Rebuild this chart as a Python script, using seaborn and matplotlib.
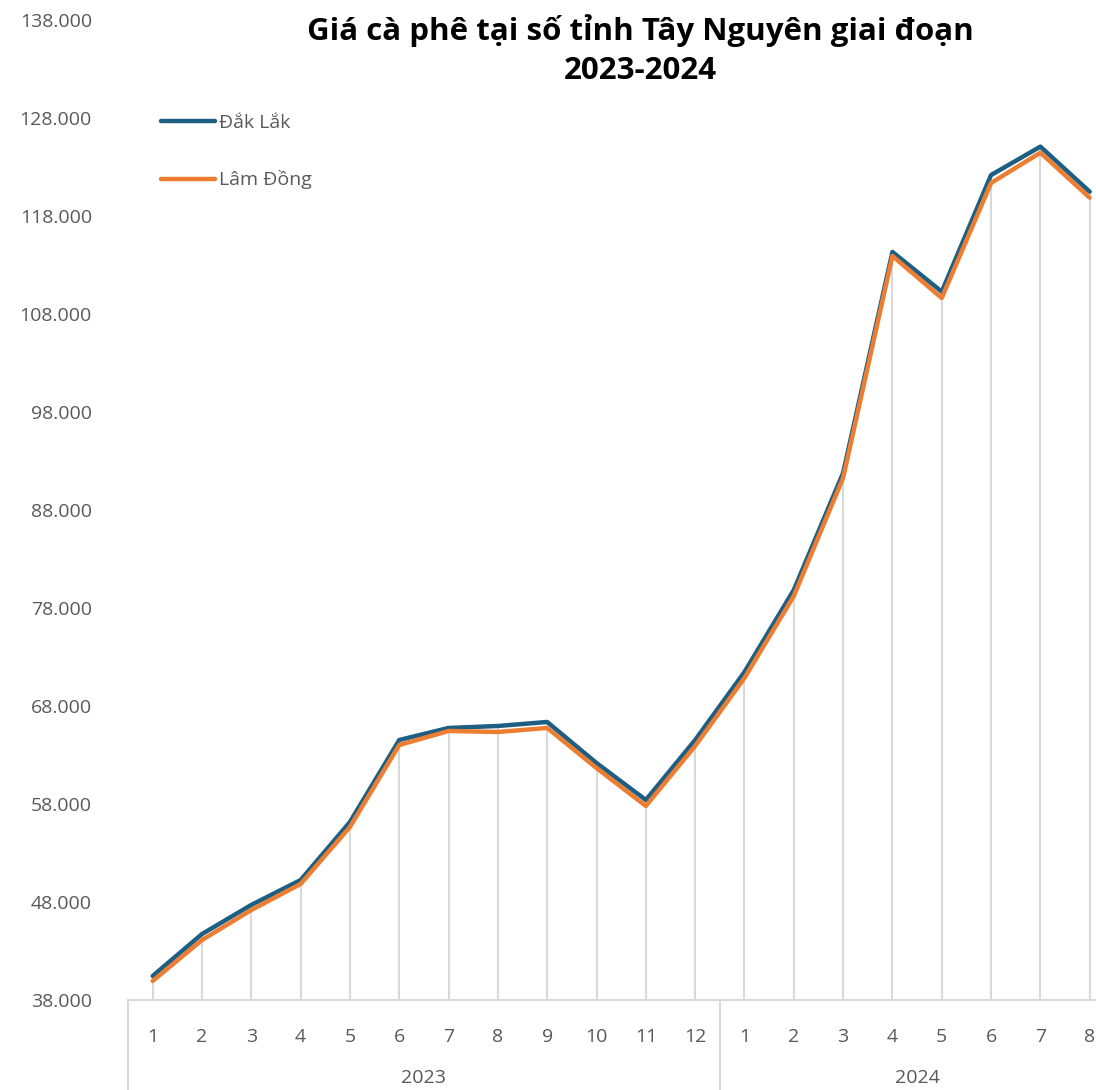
import numpy as np
import pandas as pd
import seaborn as sns
import matplotlib.pyplot as plt

# Dữ liệu giá cà phê (đồng/kg)
thang = [1, 2, 3, 4, 5, 6, 7, 8, 9, 10, 11, 12, 1, 2, 3, 4, 5, 6, 7, 8]
nam = ["2023"] * 12 + ["2024"] * 8
dak_lak = [40450, 44730, 47700, 50240, 56160, 64530, 65760, 65960, 66370, 62180,
           58410, 64530, 71470, 79840, 91780, 114330, 110280, 122180, 125080, 120480]
lam_dong = [39940, 44120, 47180, 49840, 55650, 64020, 65450, 65350, 65760, 61670,
            57800, 63920, 70860, 79220, 91270, 113920, 109630, 121370, 124460, 119870]
ten_tinh = ["Đắk Lắk", "Lâm Đồng"]
mau = ["#1d5f82", "#ed7d31"]
y_ticks = list(range(38000, 138001, 10000))

sns.set_theme(style="white")
plt.rcParams['font.family'] = ['Open Sans', 'DejaVu Sans']

idx = np.arange(len(thang))
df = pd.DataFrame({
    "idx": np.concatenate([idx, idx]),
    "gia": dak_lak + lam_dong,
    "tinh": [ten_tinh[0]] * len(idx) + [ten_tinh[1]] * len(idx),
})

W, H = 1096, 1090
fig = plt.figure(figsize=(W / 100, H / 100), dpi=100)
ax = fig.add_axes([128 / W, 90 / H, (W - 128) / W, 980 / H])

grey = "#d9d9d9"
txt = "#595959"

# drop lines
ax.vlines(idx, y_ticks[0], np.maximum(dak_lak, lam_dong), color=grey, lw=1.5, zorder=1)

sns.lineplot(data=df, x="idx", y="gia", hue="tinh", palette=mau, lw=3.2,
             ax=ax, zorder=3, solid_capstyle="round")

ax.set_ylim(38000, 138000)
ax.set_xlim(-0.5, (W - 153) / 49.3)
ax.set_yticks(y_ticks)
ax.set_yticklabels([f"{v:,.0f}".replace(",", ".") for v in y_ticks], color=txt, fontsize=14)
ax.set_xticks(idx)
ax.set_xticklabels([str(t) for t in thang], color=txt, fontsize=14)
ax.tick_params(axis="x", length=0, pad=20)
ax.tick_params(axis="y", length=0, pad=26)
ax.set_xlabel("")
ax.set_ylabel("")
for s in ["top", "right", "left"]:
    ax.spines[s].set_visible(False)
ax.spines["bottom"].set_color(grey)
ax.spines["bottom"].set_linewidth(1.5)

# khung trục phân cấp năm
tr = ax.get_xaxis_transform()
for xb in [-0.5, 11.5]:
    ax.plot([xb, xb], [0, -92 / 980], color=grey, lw=1.5, transform=tr, clip_on=False)
ax.text(5.5, -78 / 980, "2023", transform=tr, ha="center", va="center", color=txt, fontsize=14)
ax.text(15.5, -78 / 980, "2024", transform=tr, ha="center", va="center", color=txt, fontsize=14)

handles, labels = ax.get_legend_handles_labels()
ax.legend(handles, labels, loc="upper left", bbox_to_anchor=(143 / W, 1 - 96 / H),
          bbox_transform=fig.transFigure, frameon=False, fontsize=14,
          labelspacing=2.0, handlelength=2.8, handletextpad=0.2, labelcolor=txt)

fig.text(640 / W, 1 - 50 / H, "Giá cà phê tại số tỉnh Tây Nguyên giai đoạn\n2023-2024",
         ha="center", va="center", fontsize=22.5, fontweight="bold", color="black",
         linespacing=1.4)

fig.savefig("out.png", dpi=100)
